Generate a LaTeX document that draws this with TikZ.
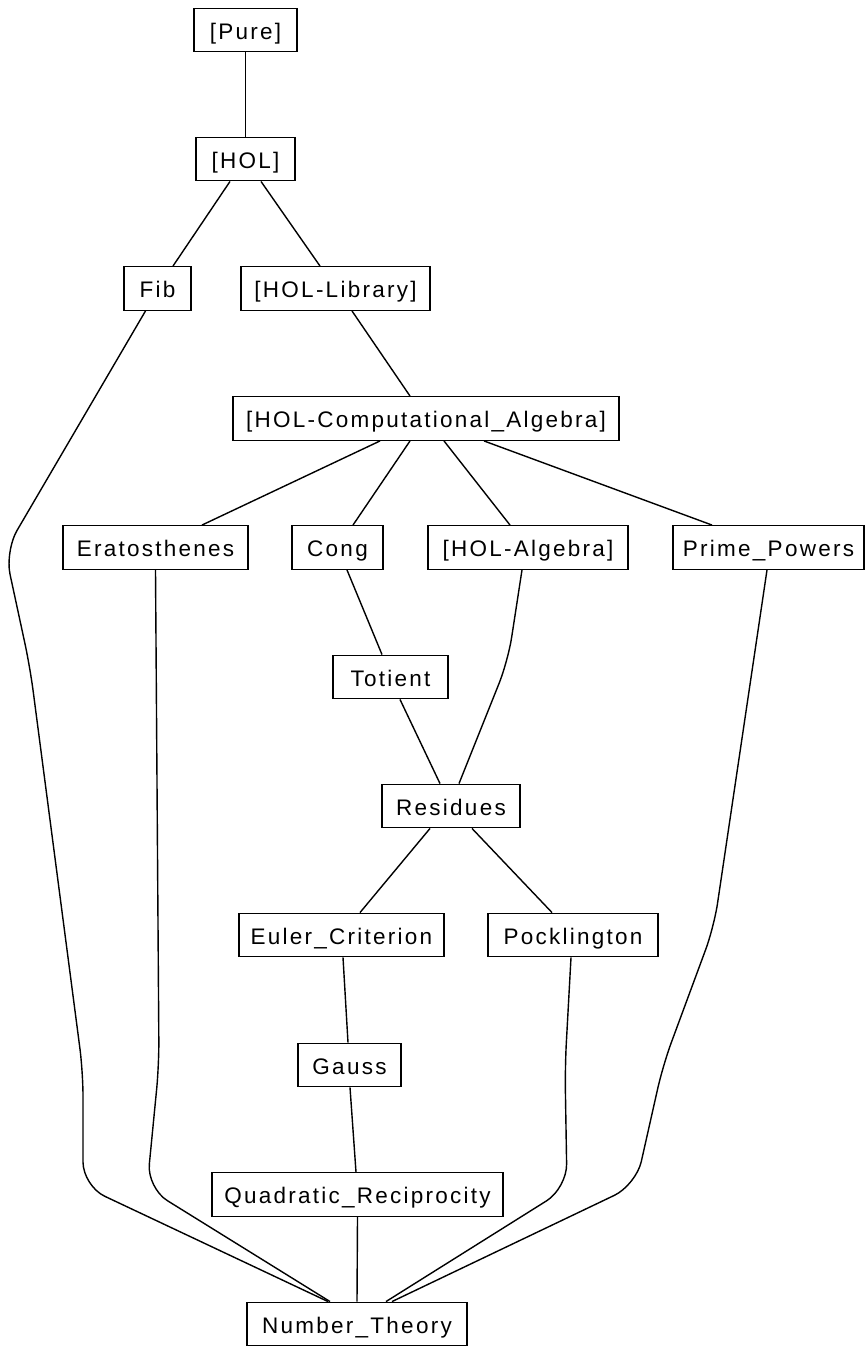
\documentclass[tikz,border=0pt]{standalone}
\usepackage{fontspec}
\setmainfont{Liberation Sans}[LetterSpace=10]
\usetikzlibrary{calc}
\begin{document}
\begin{tikzpicture}[x=1pt,y=-1pt,
  box/.style={draw, line width=1.4pt, rectangle, minimum height=43.5pt, inner sep=0pt,
    text height=18.5pt, text depth=0pt, font=\fontsize{22.5}{26}\selectfont},
  link/.style={line width=1.4pt},
  curvy/.style={line width=1.4pt, rounded corners=24pt}]
\useasboundingbox (0,0) rectangle (865,1348);
\node[box, minimum width=103pt] (pure)  at (245.5,30)    {[Pure]};
\node[box, minimum width=99pt]  (hol)   at (245.5,159)   {[HOL]};
\node[box, minimum width=67pt]  (fib)   at (157.5,288.5) {Fib};
\node[box, minimum width=189pt] (lib)   at (335.5,288.5) {[HOL-Library]};
\node[box, minimum width=386pt] (comp)  at (426,418.5)   {[HOL-Computational\_Algebra]};
\node[box, minimum width=185pt] (era)   at (155.5,547.5) {Eratosthenes};
\node[box, minimum width=91pt]  (cong)  at (337.5,547.5) {Cong};
\node[box, minimum width=200pt] (alg)   at (528,547.5)   {[HOL-Algebra]};
\node[box, minimum width=191pt] (prime) at (768.5,547.5) {Prime\_Powers};
\node[box, minimum width=115pt] (tot)   at (390.5,677)   {Totient};
\node[box, minimum width=138pt] (res)   at (451,806)     {Residues};
\node[box, minimum width=205pt] (euler) at (341.5,935)   {Euler\_Criterion};
\node[box, minimum width=170pt] (pock)  at (573,935)     {Pocklington};
\node[box, minimum width=103pt] (gauss) at (349.5,1065)  {Gauss};
\node[box, minimum width=291pt] (qr)    at (357.5,1194.5){Quadratic\_Reciprocity};
\node[box, minimum width=220pt] (nt)    at (357,1324)    {Number\_Theory};

\draw[link] (pure.south) -- (hol.north);
\draw[link] ($(hol.south)+(-15.5,0)$) -- ($(fib.north)+(15.5,0)$);
\draw[link] ($(hol.south)+(15.5,0)$) -- ($(lib.north)+(-15.5,0)$);
\draw[link] ($(lib.south)+(16.5,0)$) -- ($(comp.north)+(-16,0)$);
\draw[link] ($(comp.south)+(-46,0)$) -- ($(era.north)+(46.5,0)$);
\draw[link] ($(comp.south)+(-16,0)$) -- ($(cong.north)+(15.5,0)$);
\draw[link] ($(comp.south)+(18,0)$) -- ($(alg.north)+(-18,0)$);
\draw[link] ($(comp.south)+(58,0)$) -- ($(prime.north)+(-56.5,0)$);
\draw[link] ($(cong.south)+(9.5,0)$) -- ($(tot.north)+(-8.5,0)$);
\draw[link] ($(tot.south)+(9.5,0)$) -- ($(res.north)+(-11,0)$);
\draw[curvy] ($(alg.south)+(-6,0)$) -- (508,661) -- ($(res.north)+(8,0)$);
\draw[link] ($(res.south)+(-21,0)$) -- ($(euler.north)+(18.5,0)$);
\draw[link] ($(res.south)+(21,0)$) -- ($(pock.north)+(-21,0)$);
\draw[link] ($(euler.south)+(1.5,0)$) -- ($(gauss.north)+(-1.5,0)$);
\draw[link] ($(gauss.south)+(0.5,0)$) -- ($(qr.north)+(-1.5,0)$);
\draw[link] (qr.south) -- (nt.north);

\draw[curvy] ($(fib.south)+(-12,0)$) -- (5,551) -- (30,667) -- (83,1072) -- (83,1186) -- ($(nt.north)+(-29,0)$);
\draw[curvy] (era.south) -- (159,1065) -- (147,1188) -- ($(nt.north)+(-27,0)$);
\draw[curvy] ($(pock.south)+(-2,0)$) -- (565,1067) -- (567,1188) -- ($(nt.north)+(29,0)$);
\draw[curvy] ($(prime.south)+(-1.5,0)$) -- (714,927) -- (663,1065) -- (636,1185) -- ($(nt.north)+(35,0)$);
\end{tikzpicture}
\end{document}
